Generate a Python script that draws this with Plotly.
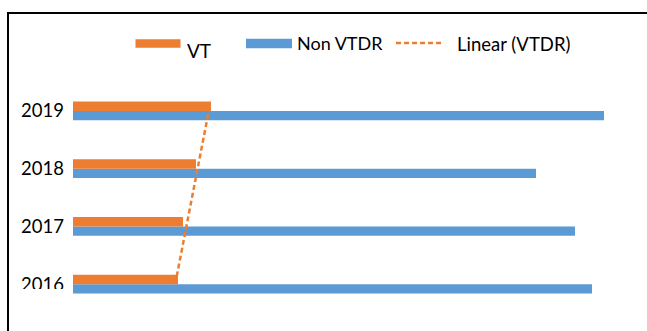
import numpy as np
import plotly.graph_objects as go

# ---- data ----
years = ["2016", "2017", "2018", "2019"]
vt_values = [105, 110, 123, 138]
non_vtdr_values = [519, 502, 463, 531]
series_names = ["VT", "Non VTDR", "Linear (VTDR)"]

ORANGE = "#ED7D31"
BLUE = "#5B9BD5"
FONT = "Lato"

# trendline (linear fit of VT over category index)
idx = np.arange(len(years))
slope, intercept = np.polyfit(idx, vt_values, 1)
trend = list(slope * idx + intercept)

# ---- layout geometry (pixels) ----
W_PX, H_PX = 647, 331
L, R, T, B = 73, 14, 82, 18
PW = W_PX - L - R
PH = H_PX - T - B


def px(xp):
    return (xp - L) / PW


def py(yp):
    return (H_PX - B - yp) / PH


fig = go.Figure()
fig.add_trace(go.Bar(y=years, x=non_vtdr_values, orientation="h", name=series_names[1],
                     marker=dict(color=BLUE, line=dict(width=0))))
fig.add_trace(go.Bar(y=years, x=vt_values, orientation="h", name=series_names[0],
                     marker=dict(color=ORANGE, line=dict(width=0))))
fig.add_trace(go.Scatter(y=years, x=trend, mode="lines", name=series_names[2],
                         line=dict(color=ORANGE, width=2.5, dash="5px,3px")))

shapes = []
# chart border (left and top)
shapes.append(dict(type="line", xref="paper", yref="paper", x0=px(8), x1=px(8), y0=py(12), y1=py(335),
                   line=dict(color="black", width=2)))
shapes.append(dict(type="line", xref="paper", yref="paper", x0=px(7), x1=px(650), y0=py(13), y1=py(13),
                   line=dict(color="black", width=2)))
# legend swatches
shapes.append(dict(type="rect", xref="paper", yref="paper", x0=px(135.5), x1=px(180.5), y0=py(39.3), y1=py(47.7),
                   fillcolor=ORANGE, line=dict(width=0)))
shapes.append(dict(type="rect", xref="paper", yref="paper", x0=px(246), x1=px(292), y0=py(38.7), y1=py(48.3),
                   fillcolor=BLUE, line=dict(width=0)))
shapes.append(dict(type="line", xref="paper", yref="paper", x0=px(396), x1=px(443), y0=py(43), y1=py(43),
                   line=dict(color=ORANGE, width=2.5, dash="5px,3px")))

annotations = [
    dict(text=series_names[0], x=px(185), y=py(50), xref="paper", yref="paper", xanchor="left",
         yanchor="middle", showarrow=False, font=dict(family=FONT, size=19, color="black")),
    dict(text=series_names[1], x=px(295), y=py(43.5), xref="paper", yref="paper", xanchor="left",
         yanchor="middle", showarrow=False, font=dict(family=FONT, size=18, color="black")),
    dict(text=series_names[2], x=px(455), y=py(44), xref="paper", yref="paper", xanchor="left",
         yanchor="middle", showarrow=False, font=dict(family=FONT, size=18.5, color="black")),
]

# clipping masks, drawn above text
shapes.append(dict(type="rect", xref="paper", yref="paper", x0=px(12), x1=px(72), y0=py(289), y1=py(331),
                   fillcolor="white", line=dict(width=0), layer="above"))
shapes.append(dict(type="rect", xref="paper", yref="paper", x0=px(183), x1=px(215), y0=py(55), y1=py(62),
                   fillcolor="white", line=dict(width=0), layer="above"))

fig.update_layout(
    width=W_PX, height=H_PX,
    margin=dict(l=L, r=R, t=T, b=B),
    paper_bgcolor="white", plot_bgcolor="white",
    barmode="group", bargap=0.671, bargroupgap=0,
    showlegend=False,
    shapes=shapes,
    annotations=annotations,
    font=dict(family=FONT, size=18, color="black"),
    xaxis=dict(range=[0, PW], visible=False, showgrid=False, zeroline=False),
    yaxis=dict(type="category", categoryorder="array", categoryarray=years,
               range=[-0.5, 3.5], showgrid=False, zeroline=False, showline=False,
               ticks="", ticklabelstandoff=8, tickfont=dict(family=FONT, size=18.5, color="black")),
)

fig.write_html("out.html")
